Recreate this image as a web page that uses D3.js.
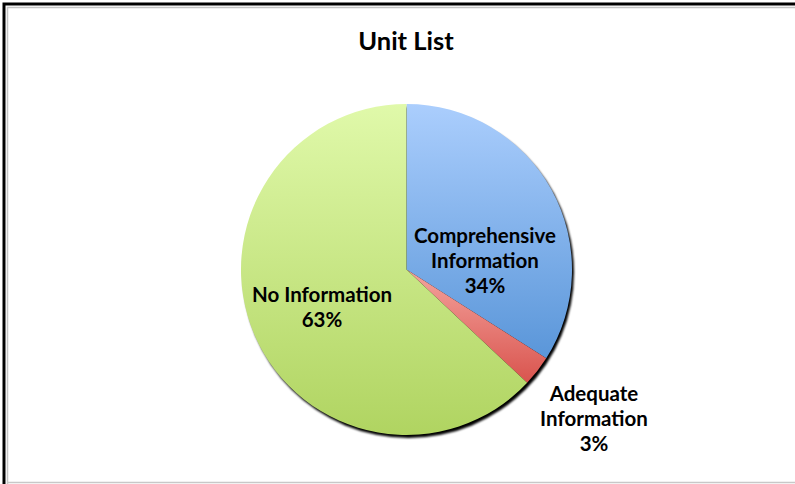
<!DOCTYPE html>
<html>
<head>
<meta charset="utf-8">
<script src="https://cdn.jsdelivr.net/npm/d3@7"></script>
<style>
  html, body { margin: 0; padding: 0; background: #fff; }
  svg { display: block; }
</style>
</head>
<body>
<svg id="chart" width="795" height="484"></svg>
<script>
// Unit list breakdown
const categories = ["Comprehensive Information", "Adequate Information", "No Information"];
const labelLines = [["Comprehensive", "Information"], ["Adequate", "Information"], ["No Information"]];
const values = [34, 3, 63];
const topColors = ["#abcefd", "#f4a39d", "#e0f9aa"];
const bottomColors = ["#5a96d9", "#d9544e", "#b0d461"];

const W = 795, H = 484;
const cx = 406.5, cy = 269.5, R = 165.5;

const svg = d3.select("#chart");
const defs = svg.append("defs");

// frame
svg.append("rect").attr("x", 0).attr("y", 0).attr("width", W).attr("height", H).attr("fill", "#fff");
svg.append("path").attr("d", `M4,${H} V4 H${W}`).attr("fill", "none").attr("stroke", "#000").attr("stroke-width", 3);
svg.append("path").attr("d", `M7.5,${H} V7.5 H${W}`).attr("fill", "none").attr("stroke", "#c4c4c4").attr("stroke-width", 1.5);
svg.append("line").attr("x1", 7).attr("x2", W).attr("y1", 482.5).attr("y2", 482.5).attr("stroke", "#c8c8c8").attr("stroke-width", 1.5);

const font = "Lato, 'Open Sans', sans-serif";

// title
svg.append("text")
  .attr("x", 406).attr("y", 50)
  .attr("text-anchor", "middle")
  .attr("font-family", font)
  .attr("font-weight", "bold")
  .attr("font-size", 25.5)
  .attr("fill", "#000")
  .text("Unit List");

// gradients per slice
values.forEach((v, i) => {
  const g = defs.append("linearGradient").attr("id", "grad" + i)
    .attr("x1", 0).attr("y1", 0).attr("x2", 0).attr("y2", 1);
  g.append("stop").attr("offset", "0%").attr("stop-color", topColors[i]);
  g.append("stop").attr("offset", "100%").attr("stop-color", bottomColors[i]);
});

// soft shadow under the pie
const f = defs.append("filter").attr("id", "shadow").attr("x", "-10%").attr("y", "-10%").attr("width", "120%").attr("height", "120%");
f.append("feGaussianBlur").attr("stdDeviation", 1.3);

const g = svg.append("g").attr("transform", `translate(${cx},${cy})`);

g.append("circle")
  .attr("cx", 2).attr("cy", 3).attr("r", R)
  .attr("fill", "#000")
  .attr("filter", "url(#shadow)");

const pie = d3.pie().sort(null).value(d => d);
const arcs = pie(values);
const arc = d3.arc().innerRadius(0).outerRadius(R);

g.selectAll("path.slice")
  .data(arcs)
  .join("path")
  .attr("class", "slice")
  .attr("d", arc)
  .attr("fill", (d, i) => `url(#grad${i})`);

// labels
const labelPos = [[485, 243], [594, 401], [322, 302]];
arcs.forEach((a, i) => {
  const lines = labelLines[i].concat([values[i] + "%"]);
  const t = svg.append("text")
    .attr("text-anchor", "middle")
    .attr("font-family", font)
    .attr("font-weight", "bold")
    .attr("font-size", 20.5)
    .attr("fill", "#000");
  lines.forEach((ln, j) => {
    t.append("tspan").attr("x", labelPos[i][0]).attr("y", labelPos[i][1] + j * 25).text(ln);
  });
});
</script>
</body>
</html>
